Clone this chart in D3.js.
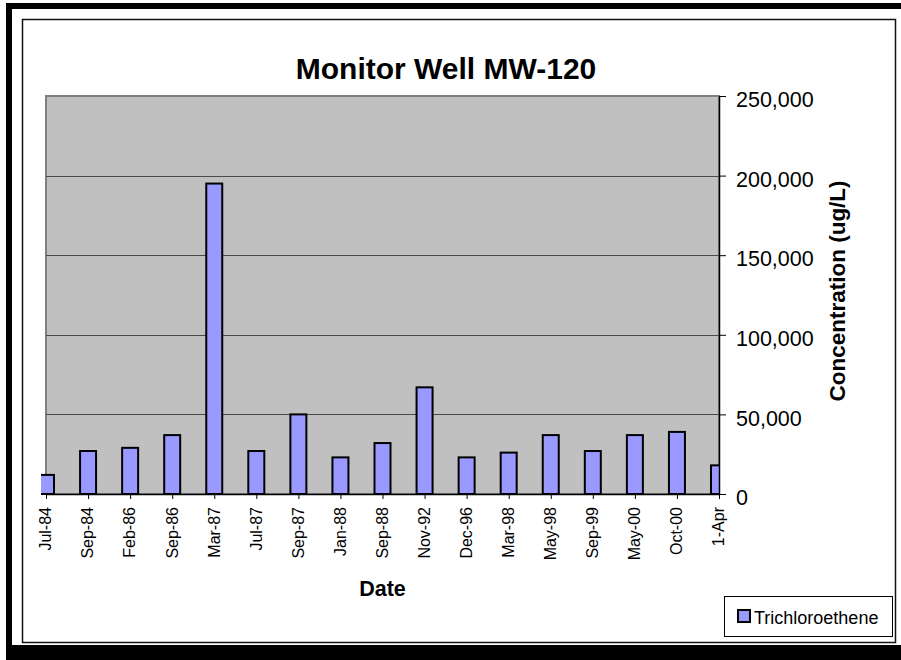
<html>
<head>
    <meta charset="utf-8">
    <script src="https://d3js.org/d3.v7.min.js"></script>
    <style>
      body { margin: 0; background: white; }
      text { font-family: "Liberation Sans", Arial, sans-serif; }
    </style>
</head>
<body>
<div id="my_dataviz"></div>
<script>
    // data
    const dates = ["Jul-84", "Sep-84", "Feb-86", "Sep-86", "Mar-87", "Jul-87", "Sep-87", "Jan-88",
                   "Sep-88", "Nov-92", "Dec-96", "Mar-98", "May-98", "Sep-99", "May-00", "Oct-00", "1-Apr"];
    const tce = [12000, 27000, 29000, 37000, 195000, 27000, 50000, 23000,
                 32000, 67000, 23000, 26000, 37000, 27000, 37000, 39000, 18000];
    const yTicks = [0, 50000, 100000, 150000, 200000, 250000];
    const seriesName = "Trichloroethene";

    const W = 901, H = 660;
    const plot = {left: 46, right: 719, top: 96, bottom: 494};

    const svg = d3.select("#my_dataviz")
      .append("svg")
        .attr("width", W)
        .attr("height", H);

    // frame (thick black band + thin chart border)
    svg.append("rect").attr("x", 6).attr("y", 3).attr("width", W - 6).attr("height", 6).attr("fill", "black");
    svg.append("rect").attr("x", 6).attr("y", 3).attr("width", 6).attr("height", H - 3).attr("fill", "black");
    svg.append("rect").attr("x", 6).attr("y", 645).attr("width", W - 6).attr("height", 15).attr("fill", "black");
    svg.append("rect")
      .attr("x", 22.5).attr("y", 19.5)
      .attr("width", 873).attr("height", 623)
      .attr("fill", "none")
      .attr("stroke", "#111")
      .attr("stroke-width", 1.5);

    // scales
    const x = d3.scalePoint()
      .domain(dates)
      .range([plot.left, plot.right]);

    const y = d3.scaleLinear()
      .domain([0, 250000])
      .range([plot.bottom, plot.top]);

    // plot area
    svg.append("rect")
      .attr("x", plot.left)
      .attr("y", plot.top)
      .attr("width", plot.right - plot.left)
      .attr("height", plot.bottom - plot.top)
      .attr("fill", "#C0C0C0")
      .attr("stroke", "#808080")
      .attr("stroke-width", 2);

    // gridlines
    svg.append("g")
      .selectAll("line")
      .data(yTicks.filter(d => d > 0 && d < 250000))
      .join("line")
        .attr("x1", plot.left)
        .attr("x2", plot.right)
        .attr("y1", d => Math.round(y(d)) + 0.5)
        .attr("y2", d => Math.round(y(d)) + 0.5)
        .attr("stroke", "#4a4a4a")
        .attr("stroke-width", 1.2);

    // bars
    svg.append("clipPath")
      .attr("id", "barclip")
      .append("rect")
        .attr("x", 41)
        .attr("y", 0)
        .attr("width", 720 - 41)
        .attr("height", H);

    const barW = 16;
    svg.append("g")
      .attr("clip-path", "url(#barclip)")
      .selectAll("rect")
      .data(tce)
      .join("rect")
        .attr("x", (d, i) => x(dates[i]) - barW / 2)
        .attr("y", d => y(d))
        .attr("width", barW)
        .attr("height", d => y(0) - y(d))
        .attr("fill", "#9999FF")
        .attr("stroke", "black")
        .attr("stroke-width", 2);

    // x axis
    const xAxis = svg.append("g")
      .attr("transform", `translate(0, ${plot.bottom})`)
      .call(d3.axisBottom(x).tickSize(5).tickSizeOuter(0));
    xAxis.select(".domain").attr("stroke", "black").attr("stroke-width", 1.5);
    xAxis.selectAll("text")
      .attr("transform", "rotate(-90)")
      .attr("x", -13)
      .attr("y", 0)
      .attr("dy", "0.3em")
      .style("text-anchor", "end")
      .style("font-size", "16px")
      .style("font-family", "'Liberation Sans', Arial, sans-serif")
      .attr("fill", "black");

    // y axis on the right
    const yAxis = svg.append("g")
      .attr("transform", `translate(${plot.right}, 0)`)
      .call(d3.axisRight(y).tickValues(yTicks).tickFormat(d3.format(",")).tickSize(7).tickPadding(10).tickSizeOuter(0));
    yAxis.select(".domain").attr("stroke", "black").attr("stroke-width", 1.5);
    yAxis.selectAll("text")
      .attr("dy", "0.5em")
      .style("font-size", "21.5px")
      .style("font-family", "'Liberation Sans', Arial, sans-serif")
      .attr("fill", "black");

    // titles
    svg.append("text")
      .attr("x", 446)
      .attr("y", 79)
      .attr("text-anchor", "middle")
      .style("font-size", "30px")
      .style("font-weight", "bold")
      .text("Monitor Well MW-120");

    svg.append("text")
      .attr("x", 382.5)
      .attr("y", 596)
      .attr("text-anchor", "middle")
      .style("font-size", "21.5px")
      .style("font-weight", "bold")
      .text("Date");

    svg.append("text")
      .attr("transform", "translate(845, 291) rotate(-90)")
      .attr("text-anchor", "middle")
      .style("font-size", "22.5px")
      .style("font-weight", "bold")
      .text("Concentration (ug/L)");

    // legend
    const legend = svg.append("g");
    legend.append("rect")
      .attr("x", 724.5).attr("y", 596.5)
      .attr("width", 168).attr("height", 40)
      .attr("fill", "white")
      .attr("stroke", "black")
      .attr("stroke-width", 1);
    legend.append("rect")
      .attr("x", 738).attr("y", 610)
      .attr("width", 12).attr("height", 12)
      .attr("fill", "#9999FF")
      .attr("stroke", "black")
      .attr("stroke-width", 2);
    legend.append("text")
      .attr("x", 754)
      .attr("y", 624)
      .style("font-size", "18px")
      .text(seriesName);
</script>
</body>
</html>
